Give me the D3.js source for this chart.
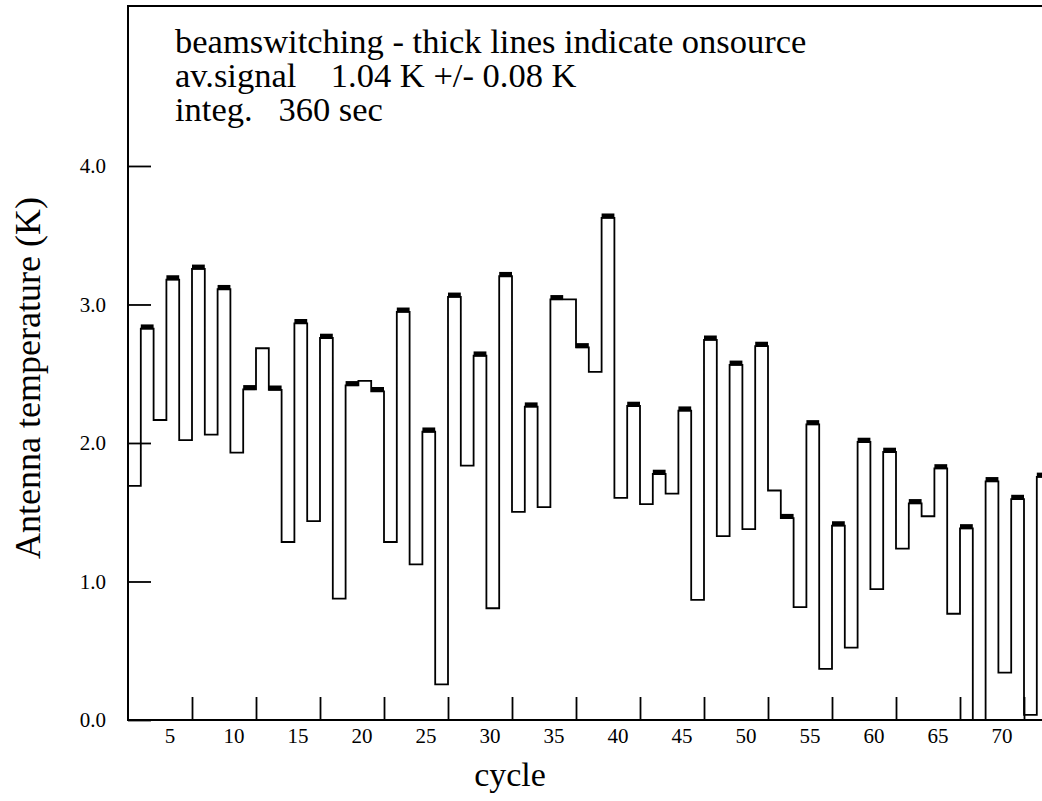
<!DOCTYPE html>
<html>
<head>
<meta charset="utf-8">
<script src="https://cdn.jsdelivr.net/npm/d3@7"></script>
<style>
  html, body { margin: 0; padding: 0; background: #fff; }
  svg { display: block; }
</style>
</head>
<body>
<svg id="chart" width="1042" height="801"></svg>
<script>
// Antenna temperature per cycle (K)
var temps = [
  1.69, 2.825, 2.166, 3.18, 2.02, 3.257, 2.06, 3.11, 1.93, 2.387, 2.684, 2.384,
  1.285, 2.864, 1.436, 2.758, 0.876, 2.416, 2.448, 2.373, 1.285, 2.947, 1.123, 2.081,
  0.257, 3.055, 1.837, 2.63, 0.807, 3.204, 1.503, 2.262, 1.537, 3.037, 3.037, 2.69,
  2.514, 3.626, 1.603, 2.267, 1.558, 1.776, 1.635, 2.233, 0.868, 2.745, 1.327, 2.564,
  1.378, 2.70, 1.657, 1.457, 0.815, 2.134, 0.369, 1.404, 0.523, 2.007, 0.945, 1.935,
  1.237, 1.564, 1.471, 1.816, 0.767, 1.383, -0.1, 1.723, 0.342, 1.595, 0.037, 1.755
];

// 1 = onsource (drawn thick), 0 = offsource
var onsource = [
  0, 1, 0, 1, 0, 1, 0, 1, 0, 1, 0, 1,
  0, 1, 0, 1, 0, 1, 0, 1, 0, 1, 0, 1,
  0, 1, 0, 1, 0, 1, 0, 1, 0, 1, 0, 1,
  0, 1, 0, 1, 0, 1, 0, 1, 0, 1, 0, 1,
  0, 1, 0, 1, 0, 1, 0, 1, 0, 1, 0, 1,
  0, 1, 0, 1, 0, 1, 0, 1, 0, 1, 0, 1
];

var xTicks = [5, 10, 15, 20, 25, 30, 35, 40, 45, 50, 55, 60, 65, 70];
var yTicks = [0, 1, 2, 3, 4];

var infoLines = [
  'beamswitching - thick lines indicate onsource',
  'av.signal    1.04 K +/- 0.08 K',
  'integ.   360 sec'
];

var serif = "'Liberation Serif', 'Times New Roman', serif";

var drawChart = function () {
  let svg = d3.select('#chart');
  let left = 128, top = 6, bottom = 720, right = 1042;

  // step i covers [i, i+1] on the x scale
  let x = d3.scaleLinear().domain([0, temps.length]).range([left, left + 12.8 * temps.length]);
  let y = d3.scaleLinear().domain([0, 5.155]).range([bottom, top]);

  svg.append('defs').append('clipPath').attr('id', 'plot-clip')
    .append('rect')
    .attr('x', left).attr('y', top)
    .attr('width', right - left).attr('height', bottom - top);

  let plot = svg.append('g').attr('clip-path', 'url(#plot-clip)');

  // Step outline through all cycles
  let pts = temps.map((v, i) => [i, v]);
  pts.push([temps.length, temps[temps.length - 1]]);
  let line = d3.line()
    .x(d => x(d[0]))
    .y(d => y(d[1]))
    .curve(d3.curveStepAfter);

  plot.append('path')
    .datum(pts)
    .attr('d', line)
    .attr('fill', 'none')
    .attr('stroke', '#000')
    .attr('stroke-width', 1.8);

  // Thick caps on the onsource cycles
  plot.selectAll('.onsrc')
    .data(temps.map((v, i) => ({i: i, v: v})).filter(d => onsource[d.i]))
    .join('line')
    .attr('class', 'onsrc')
    .attr('x1', d => x(d.i))
    .attr('x2', d => x(d.i + 1))
    .attr('y1', d => y(d.v) - 1.8)
    .attr('y2', d => y(d.v) - 1.8)
    .attr('stroke', '#000')
    .attr('stroke-width', 5);

  // Axes with inward ticks
  let yAxis = d3.axisLeft(y)
    .tickValues(yTicks)
    .tickFormat(d3.format('.1f'))
    .tickSize(-23)
    .tickPadding(22);
  let gy = svg.append('g').attr('transform', `translate(${left},0)`).call(yAxis);

  let xAxis = d3.axisBottom(x)
    .tickValues(xTicks)
    .tickFormat(d3.format('d'))
    .tickSize(-23)
    .tickPadding(8);
  let gx = svg.append('g').attr('transform', `translate(0,${bottom})`).call(xAxis);

  [gx, gy].forEach(g => {
    g.select('.domain').remove();
    g.selectAll('.tick line').attr('stroke', '#000').attr('stroke-width', 1.8);
    g.selectAll('.tick text')
      .style('font-family', serif)
      .style('font-size', '21px')
      .attr('fill', '#000');
  });
  // the cycle labels sit left of their tick marks in the original
  gx.selectAll('.tick text').attr('x', -22.6);

  // Frame: left, top, bottom
  svg.append('path')
    .attr('d', `M${right},${top}H${left}V${bottom}H${right}`)
    .attr('fill', 'none')
    .attr('stroke', '#000')
    .attr('stroke-width', 2);

  // Info text block
  svg.append('g').selectAll('text')
    .data(infoLines)
    .join('text')
    .attr('x', 175)
    .attr('y', (d, i) => 52.5 + i * 34)
    .attr('fill', '#000')
    .style('font-family', serif)
    .style('font-size', '34.5px')
    .style('white-space', 'pre')
    .attr('xml:space', 'preserve')
    .text(d => d);

  // Axis titles
  svg.append('text')
    .attr('x', 510)
    .attr('y', 786)
    .attr('text-anchor', 'middle')
    .attr('fill', '#000')
    .style('font-family', serif)
    .style('font-size', '34px')
    .text('cycle');

  svg.append('text')
    .attr('transform', 'translate(40,378) rotate(-90)')
    .attr('text-anchor', 'middle')
    .attr('fill', '#000')
    .style('font-family', serif)
    .style('font-size', '36px')
    .text('Antenna temperature (K)');
};

document.addEventListener('DOMContentLoaded', function () {
  drawChart();
}, false);
</script>
</body>
</html>
